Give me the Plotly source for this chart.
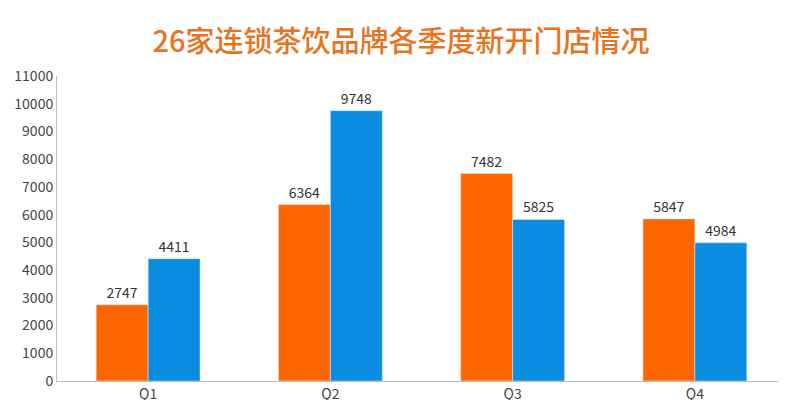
import plotly.graph_objects as go

quarters = ["Q1", "Q2", "Q3", "Q4"]
series_a = [2747, 6364, 7482, 5847]
series_b = [4411, 9748, 5825, 4984]

fig = go.Figure()
fig.add_bar(x=quarters, y=series_a, marker_color="#FF6600", text=series_a,
            textposition="outside", textfont=dict(size=14, color="#333"), cliponaxis=False)
fig.add_bar(x=quarters, y=series_b, marker_color="#0A8CE0", text=series_b,
            textposition="outside", textfont=dict(size=14, color="#333"), cliponaxis=False)

fig.update_layout(
    width=786, height=400, showlegend=False,
    margin=dict(l=49, r=8, t=68, b=27, autoexpand=False),
    paper_bgcolor="white", plot_bgcolor="white",
    barmode="group", bargap=0.43, bargroupgap=0,
    font=dict(family="Noto Sans CJK SC", color="#444"),
    title=dict(text="26家连锁茶饮品牌各季度新开门店情况", x=0.5, xanchor="center",
               y=0.915, yanchor="middle", font=dict(size=29, color="#E8731F", weight=500)),
    yaxis=dict(range=[0, 11000], dtick=1000, tickformat="d", showgrid=False, showline=True,
               automargin=False, linecolor="#BBB", ticks="", tickfont=dict(size=14, color="#444"), zeroline=False),
    xaxis=dict(showline=True, linecolor="#BBB", automargin=False, tickfont=dict(size=14, color="#444"), ticks=""),
)
fig.write_html("out.html")
